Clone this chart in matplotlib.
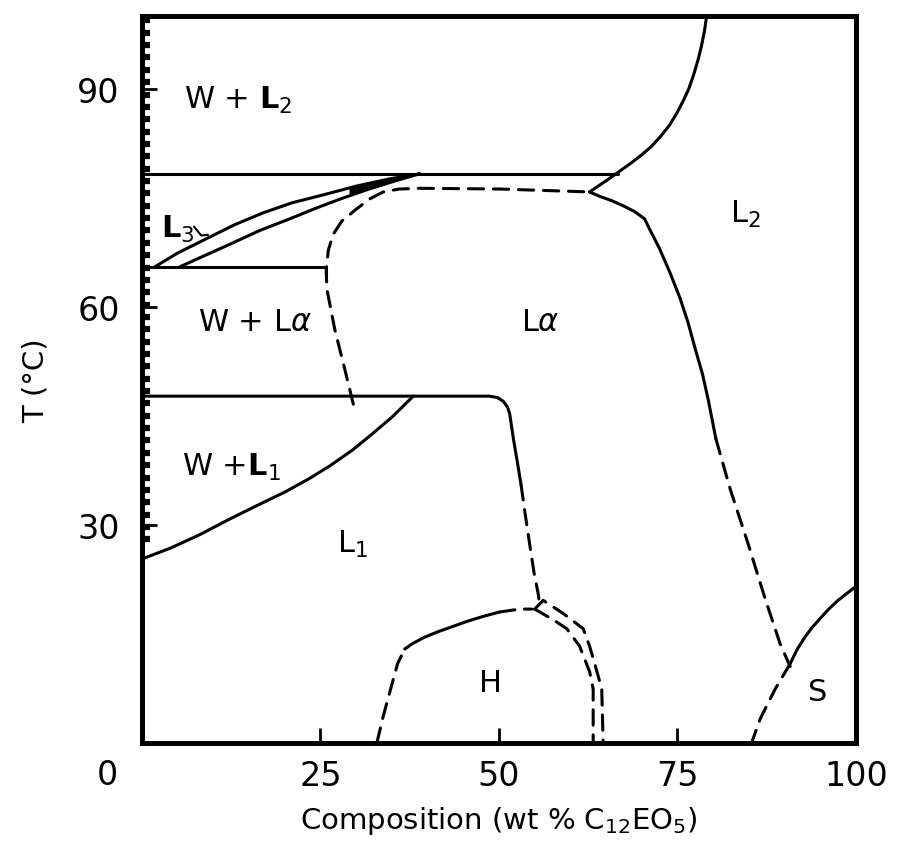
import matplotlib
matplotlib.use("Agg")
import matplotlib.pyplot as plt
from matplotlib.ticker import FixedLocator
import numpy as np

plt.rcParams['font.family'] = ['DejaVu Sans']
plt.rcParams['mathtext.fontset'] = 'dejavusans'

# phase boundaries: composition (wt %), T (C)
top_comp = [0, 66.7]
top_T = [78.3, 78.3]

mid_comp = [0, 25.8, 25.8]
mid_T = [65.5, 65.5, 64.1]

low_comp = [0, 48.7, 49.8, 50.6, 51.2, 51.5, 52.0, 52.6, 53.1]
low_T = [47.7, 47.7, 47.5, 47.0, 46.2, 45.3, 42.0, 38.5, 35.5]
l1la_dash_comp = [53.1, 53.6, 54.2, 54.9, 55.5, 55.7]
l1la_dash_T = [35.5, 32.0, 28.0, 23.5, 20.5, 19.0]

wl1_comp = [0, 4, 8, 12.3, 16, 20, 23.5, 26.3, 29.5, 32, 35, 38.0]
wl1_T = [25.3, 26.8, 28.6, 30.8, 32.6, 34.5, 36.4, 38.1, 40.3, 42.3, 44.8, 47.7]

la_left_comp = [29.6, 28.4, 27.0, 25.9, 25.8, 26.1, 26.8, 28.0, 30.1, 32.0, 33.8, 36.0, 38.9, 50.1, 62.7]
la_left_T = [46.6, 51.4, 56.9, 62.4, 65.0, 67.8, 70.0, 71.8, 73.5, 74.9, 75.8, 76.2, 76.3, 76.2, 75.8]

l3_up_comp = [1.8, 5, 9.5, 13.0, 16.9, 21.0, 25.4, 30.0, 34.7, 38.9]
l3_up_T = [65.5, 67.4, 69.6, 71.3, 72.9, 74.3, 75.4, 76.6, 77.6, 78.3]
l3_lo_comp = [5.3, 8, 12.3, 16.5, 20.7, 24.2, 27.7, 31.5, 35.4, 38.9]
l3_lo_T = [65.5, 66.7, 68.6, 70.5, 72.1, 73.5, 74.8, 76.1, 77.3, 78.3]

l2_up_comp = [79.1, 78.8, 78.4, 77.9, 77.3, 76.6, 75.8, 74.9, 73.9, 72.7,
              71.4, 70.0, 68.4, 66.7, 65.1, 63.6, 62.7]
l2_up_T = [100, 98, 96, 94, 92, 90, 88.3, 86.6, 85.0, 83.5,
           82.1, 80.9, 79.7, 78.5, 77.4, 76.4, 75.8]

l2_lo_comp = [62.7, 64.1, 65.8, 67.4, 69.0, 70.4, 71.2, 72.5, 74.0, 75.4, 76.5, 77.5, 78.5, 79.3, 80.4]
l2_lo_T = [75.8, 75.2, 74.6, 73.9, 73.1, 72.1, 70.5, 68.0, 64.6, 61.1, 57.8, 54.2, 50.8, 47.3, 41.8]
l2_dash_comp = [80.4, 82.4, 84.9, 87.3, 89.4, 90.8]
l2_dash_T = [41.8, 34.9, 27.4, 19.8, 13.6, 10.5]

s_comp = [100, 98.8, 97.5, 96.2, 95.0, 93.9, 92.9, 91.8, 90.8]
s_T = [21.5, 20.6, 19.6, 18.4, 17.1, 15.9, 14.6, 12.9, 10.9]
s_dash_comp = [90.8, 88.7, 86.6, 85.4]
s_dash_T = [10.9, 7.4, 3.3, 0]

h_left_dash_comp = [32.9, 33.8, 35.8, 36.8]
h_left_dash_T = [0, 3.7, 10.9, 12.9]
h_top_comp = [36.8, 37.8, 39.5, 41.5, 43.5, 45.5, 47.8, 50.1]
h_top_T = [12.9, 13.6, 14.5, 15.3, 16.0, 16.7, 17.4, 18.0]
h_top_dash_comp = [50.1, 52.9, 54.6]
h_top_dash_T = [18.0, 18.4, 18.4]

h_out_comp = [55.0, 56.2, 59.0, 61.8, 62.7, 63.9, 64.4, 64.6]
h_out_T = [18.4, 19.6, 17.8, 15.7, 13.3, 9.2, 7.4, 0]
h_in_comp = [55.0, 57.5, 59.5, 61.3, 62.7, 63.2, 63.2]
h_in_T = [18.4, 17.0, 15.7, 13.3, 9.8, 7.4, 0]

fig = plt.figure(figsize=(8.99, 8.53), dpi=100)
ax = fig.add_axes([0.158, 0.128, 0.794, 0.852])

lw = 2.2
dash = (5, 3.2)

def solid(x, y):
    ax.plot(x, y, color='black', lw=lw, solid_capstyle='round', solid_joinstyle='round')

def dashed(x, y):
    ax.plot(x, y, color='black', lw=lw, linestyle=(0, dash), dash_capstyle='round')

solid(top_comp, top_T)
solid(mid_comp, mid_T)
solid(low_comp, low_T)
dashed(l1la_dash_comp, l1la_dash_T)
solid(wl1_comp, wl1_T)
dashed(la_left_comp, la_left_T)
solid(l3_up_comp, l3_up_T)
solid(l3_lo_comp, l3_lo_T)
# the closing end of the L3 sliver is filled in black
xs = np.linspace(29.0, 38.9, 40)
ax.fill_between(xs, np.interp(xs, l3_lo_comp, l3_lo_T), np.interp(xs, l3_up_comp, l3_up_T),
                color='black', lw=0)
solid(l2_up_comp, l2_up_T)
solid(l2_lo_comp, l2_lo_T)
dashed(l2_dash_comp, l2_dash_T)
solid(s_comp, s_T)
dashed(s_dash_comp, s_dash_T)
dashed(h_left_dash_comp, h_left_dash_T)
solid(h_top_comp, h_top_T)
dashed(h_top_dash_comp, h_top_dash_T)
dashed(h_out_comp, h_out_T)
dashed(h_in_comp, h_in_T)

# L3 pointer
ax.plot([7.3, 8.3, 9.2], [71.0, 69.8, 69.9], color='black', lw=1.5)

ax.set_xlim(0, 100)
ax.set_ylim(0, 100)
for s in ax.spines.values():
    s.set_linewidth(3.6)

ax.set_xticks([25, 50, 75, 100])
ax.set_xticklabels(['25', '50', '75', '100'])
ax.set_yticks([30, 60, 90])
ax.set_yticklabels(['30', '60', '90'])
ax.tick_params(axis='both', which='major', direction='in', length=11, width=2,
               labelsize=24, pad=12)
ax.tick_params(axis='y', pad=16)
# toothed left edge (water)
ax.yaxis.set_minor_locator(FixedLocator(np.arange(28, 100, 1.7)))
ax.tick_params(axis='y', which='minor', direction='in', length=5.5, width=4.5)
ax.text(-0.049, -0.044, '0', transform=ax.transAxes, ha='center', va='center', fontsize=24)

ax.set_xlabel(r'Composition (wt % C$_{12}$EO$_5$)', fontsize=21, labelpad=8)
ax.set_ylabel('T (°C)', fontsize=21, labelpad=20)

fs = 22
ax.text(13.5, 88.5, r'W + $\mathbf{L}_2$', fontsize=fs, ha='center', va='center')
ax.text(5.0, 70.8, r'$\mathbf{L}_3$', fontsize=fs, ha='center', va='center')
ax.text(15.8, 58.0, r'W + L$\alpha$', fontsize=fs, ha='center', va='center')
ax.text(55.8, 58.0, r'L$\alpha$', fontsize=fs, ha='center', va='center')
ax.text(12.5, 38.0, r'W +$\mathbf{L}_1$', fontsize=fs, ha='center', va='center')
ax.text(29.5, 27.5, r'L$_1$', fontsize=fs, ha='center', va='center')
ax.text(48.8, 8.3, 'H', fontsize=fs, ha='center', va='center')
ax.text(94.6, 7.0, 'S', fontsize=fs, ha='center', va='center')
ax.text(84.5, 72.8, r'L$_2$', fontsize=fs, ha='center', va='center')

fig.savefig('out.png', dpi=100)
